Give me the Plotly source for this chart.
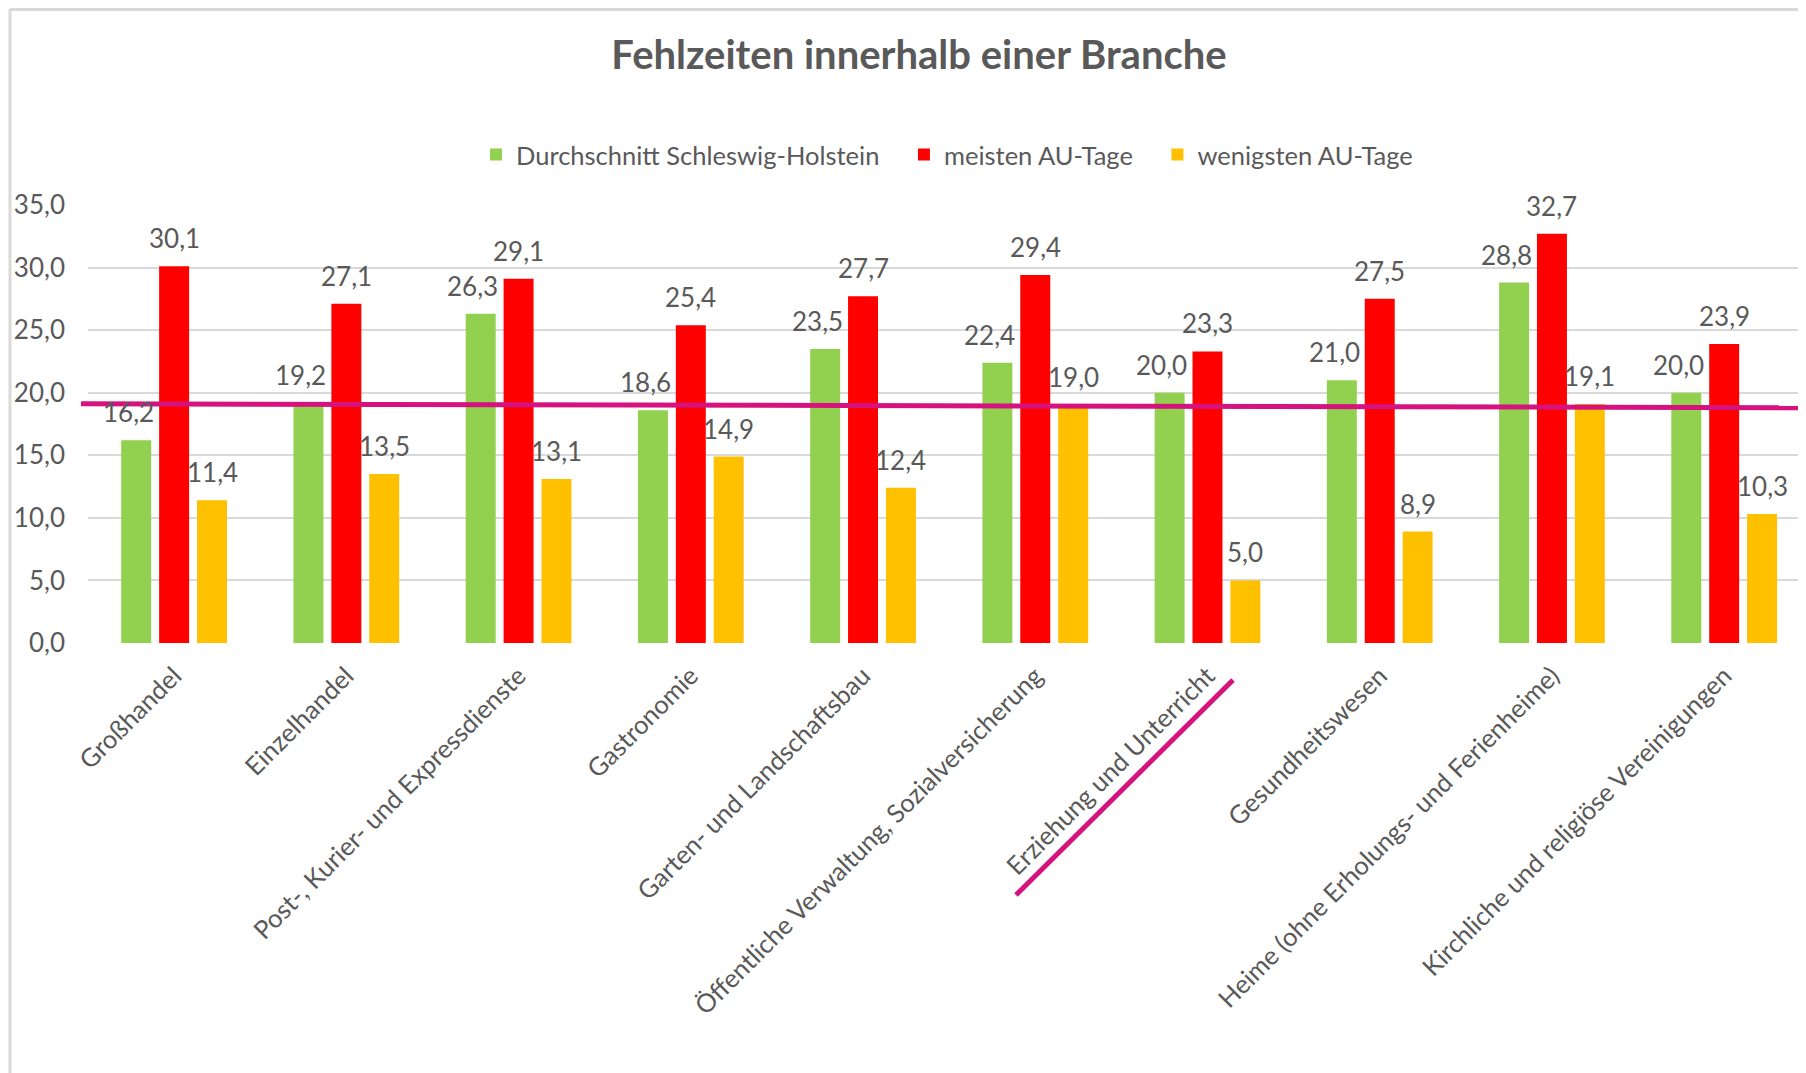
import plotly.graph_objects as go

# ---------------- data ----------------
categories = [
    "Großhandel",
    "Einzelhandel",
    "Post-, Kurier- und Expressdienste",
    "Gastronomie",
    "Garten- und Landschaftsbau",
    "Öffentliche Verwaltung, Sozialversicherung",
    "Erziehung und Unterricht",
    "Gesundheitswesen",
    "Heime (ohne Erholungs- und Ferienheime)",
    "Kirchliche und religiöse Vereinigungen",
]
durchschnitt_sh = [16.2, 19.2, 26.3, 18.6, 23.5, 22.4, 20.0, 21.0, 28.8, 20.0]
meisten_au = [30.1, 27.1, 29.1, 25.4, 27.7, 29.4, 23.3, 27.5, 32.7, 23.9]
wenigsten_au = [11.4, 13.5, 13.1, 14.9, 12.4, 19.0, 5.0, 8.9, 19.1, 10.3]
series_names = ["Durchschnitt Schleswig-Holstein", "meisten AU-Tage", "wenigsten AU-Tage"]
y_ticks = [0, 5, 10, 15, 20, 25, 30, 35]
marker_line_values = [19.12, 18.8]   # hand-drawn magenta line: start / end value
title_text = "Fehlzeiten innerhalb einer Branche"

# ---------------- style ----------------
colors = ["#92D050", "#FF0000", "#FFC000"]
text_color = "#595959"
grid_color = "#D9D9D9"
pink = "#D6127F"
font_family = "Lato, 'Open Sans', sans-serif"
bar_width = 0.174
bar_centers = [-0.22, 0.0, 0.22]
label_shift = [-0.045, 0.0, 0.0]
y_range = [0, 35]

# page geometry (the page body has an 8px margin)
PAGE_OFF = 8
W, H = 1806 - PAGE_OFF, 1073 - PAGE_OFF
plot_left, plot_top, plot_bottom = 88, 205, 643          # page pixels
ml, mt = plot_left - PAGE_OFF, plot_top - PAGE_OFF
mr = 0
mb = H - mt - (plot_bottom - plot_top)
pw, ph = W - ml - mr, plot_bottom - plot_top
x_range = [-0.5, 9.475]


def px_to_paper_x(px):
    return (px - plot_left) / pw


def px_to_paper_y(py):
    return (plot_bottom - py) / ph


def val_to_paper_y(v):
    return (v - y_range[0]) / (y_range[1] - y_range[0])


def fmt(v):
    return f"{v:.1f}".replace(".", ",")


fig = go.Figure()
xs = list(range(len(categories)))
all_series = [durchschnitt_sh, meisten_au, wenigsten_au]
legend_pad = "\u00a0\u00a0\u00a0"
for k, (name, vals) in enumerate(zip(series_names, all_series)):
    fig.add_trace(go.Bar(
        x=xs, y=vals, name=name + (legend_pad if k < 2 else ""),
        width=bar_width, offset=bar_centers[k] - bar_width / 2,
        marker=dict(color=colors[k], line=dict(width=0)),
        hovertemplate="%{y:.1f}<extra>" + name + "</extra>",
    ))

annotations = []
for k, vals in enumerate(all_series):
    for i, v in enumerate(vals):
        annotations.append(dict(
            x=i + bar_centers[k] + label_shift[k], y=v, xref="x", yref="y",
            text=fmt(v), showarrow=False, yanchor="middle", yshift=28,
            font=dict(family=font_family, size=26, color=text_color),
        ))

shapes = [
    # magenta hand-drawn line across the chart (starts slightly left of the plot area)
    dict(type="line", xref="paper", yref="paper",
         x0=px_to_paper_x(81), x1=1.0,
         y0=val_to_paper_y(marker_line_values[0]), y1=val_to_paper_y(marker_line_values[1]),
         line=dict(color=pink, width=5), layer="above"),
    # magenta underline below "Erziehung und Unterricht"
    dict(type="line", xref="paper", yref="paper",
         x0=px_to_paper_x(1016), y0=px_to_paper_y(895),
         x1=px_to_paper_x(1233), y1=px_to_paper_y(680),
         line=dict(color=pink, width=5), layer="above"),
    # chart area border (left + top)
    dict(type="line", xref="paper", yref="paper",
         x0=px_to_paper_x(10), x1=px_to_paper_x(10),
         y0=px_to_paper_y(9), y1=px_to_paper_y(1080),
         line=dict(color="#D9D9D9", width=3)),
    dict(type="line", xref="paper", yref="paper",
         x0=px_to_paper_x(10), x1=px_to_paper_x(1810),
         y0=px_to_paper_y(9.5), y1=px_to_paper_y(9.5),
         line=dict(color="#D9D9D9", width=3)),
]

fig.update_layout(
    width=W, height=H,
    margin=dict(l=ml, r=mr, t=mt, b=mb, autoexpand=False),
    paper_bgcolor="white", plot_bgcolor="white",
    separators=",.",
    barmode="overlay",
    font=dict(family=font_family, size=25, color=text_color),
    title=dict(text="<b>" + title_text + "</b>",
               x=(919 - PAGE_OFF) / W, y=1 - (55 - PAGE_OFF) / H,
               xanchor="center", yanchor="middle",
               font=dict(family=font_family, size=40, color=text_color)),
    legend=dict(orientation="h", x=px_to_paper_x(947), xanchor="center",
                y=px_to_paper_y(155), yanchor="middle",
                font=dict(family=font_family, size=25.5, color=text_color),
                itemwidth=30, bgcolor="rgba(0,0,0,0)"),
    xaxis=dict(range=x_range, tickmode="array", tickvals=xs, ticktext=categories,
               tickangle=-45, showgrid=False, zeroline=False, showline=False,
               ticks="", ticklabelstandoff=12,
               tickfont=dict(size=25.5, color=text_color)),
    yaxis=dict(range=y_range, tickmode="array", tickvals=y_ticks, tickformat=".1f",
               showgrid=True, gridcolor=grid_color, gridwidth=2, zeroline=False,
               showline=False, ticks="", ticklabelstandoff=22,
               tickfont=dict(size=26, color=text_color)),
    annotations=annotations,
    shapes=shapes,
    showlegend=True,
)

fig.write_html("out.html")
